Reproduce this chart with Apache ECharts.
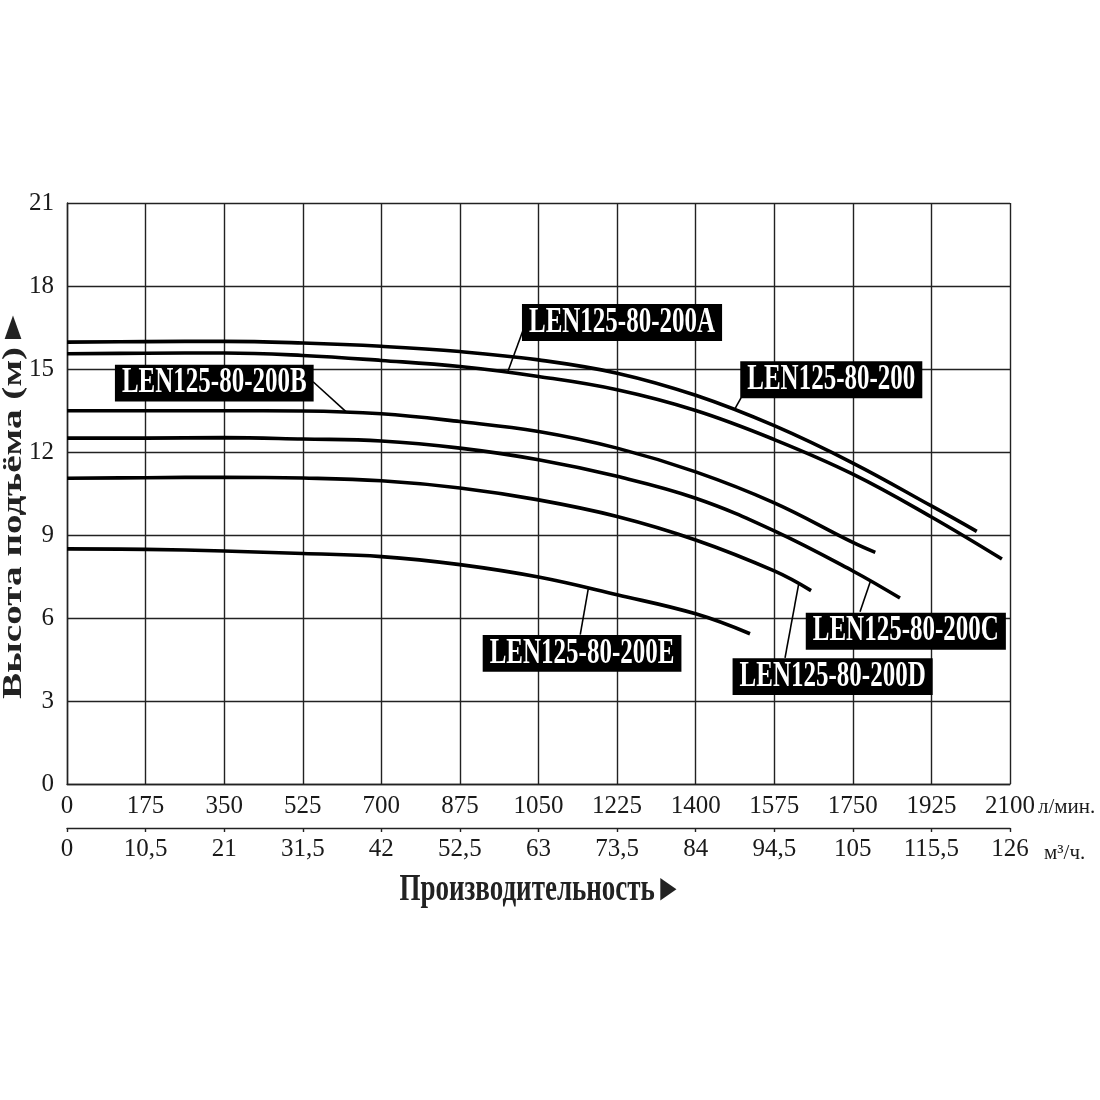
<!DOCTYPE html>
<html>
<head>
<meta charset="utf-8">
<script src="https://cdn.jsdelivr.net/npm/echarts@6/dist/echarts.min.js"></script>
<style>
  html, body { margin: 0; background: #fff; }
  #chart { width: 1100px; height: 1100px; }
</style>
</head>
<body>
<div id="chart"></div>
<script>
// axis ticks
const lpmTicks = [0, 175, 350, 525, 700, 875, 1050, 1225, 1400, 1575, 1750, 1925, 2100]
const m3hTicks = ['0', '10,5', '21', '31,5', '42', '52,5', '63', '73,5', '84', '94,5', '105', '115,5', '126']
const headTicks = [0, 3, 6, 9, 12, 15, 18, 21]

// pump curves: flow (l/min) and head (m)
const q200 = [0, 175, 350, 525, 700, 875, 1050, 1225, 1400, 1575, 1750, 1925, 2026]
const h200 = [15.97, 15.99, 16.0, 15.94, 15.82, 15.63, 15.33, 14.85, 14.05, 12.95, 11.6, 10.05, 9.13]
const q200A = [0, 175, 350, 525, 700, 875, 1050, 1225, 1400, 1575, 1750, 1925, 2082]
const h200A = [15.55, 15.57, 15.58, 15.49, 15.31, 15.09, 14.73, 14.25, 13.5, 12.45, 11.2, 9.65, 8.13]
const q200B = [0, 175, 350, 525, 700, 875, 1050, 1225, 1400, 1575, 1750, 1800]
const h200B = [13.49, 13.49, 13.49, 13.48, 13.38, 13.1, 12.74, 12.14, 11.28, 10.16, 8.73, 8.37]
const q200C = [0, 175, 350, 525, 700, 875, 1050, 1225, 1400, 1575, 1750, 1855]
const h200C = [12.5, 12.5, 12.52, 12.47, 12.4, 12.14, 11.72, 11.12, 10.33, 9.15, 7.7, 6.72]
const q200D = [0, 175, 350, 525, 700, 875, 1050, 1225, 1400, 1575, 1657]
const h200D = [11.05, 11.07, 11.09, 11.06, 10.96, 10.7, 10.27, 9.67, 8.82, 7.7, 6.99]
const q200E = [0, 175, 350, 525, 700, 875, 1050, 1225, 1400, 1521]
const h200E = [8.5, 8.48, 8.42, 8.33, 8.22, 7.93, 7.48, 6.84, 6.15, 5.43]

// model names, label box centre and leader line (from box edge to curve), in data units
const modelNames = ['LEN125-80-200', 'LEN125-80-200A', 'LEN125-80-200B', 'LEN125-80-200C', 'LEN125-80-200D', 'LEN125-80-200E']
const labelCenters = [[1702, 14.61], [1236, 16.68], [328, 14.49], [1868, 5.52], [1705, 3.88], [1147, 4.72]]
const leaderFrom = [[1501, 13.96], [1016, 16.42], [548, 14.54], [1766, 6.23], [1599, 4.56], [1143, 5.4]]
const leaderTo = [[1488, 13.58], [981, 14.87], [623, 13.43], [1789, 7.32], [1629, 7.2], [1161, 7.07]]

const curves = [
  [q200, h200],
  [q200A, h200A],
  [q200B, h200B],
  [q200C, h200C],
  [q200D, h200D],
  [q200E, h200E]
]

const FONT = '"Liberation Serif", "Times New Roman", serif'
const INK = '#1a1a1a'

const chart = echarts.init(document.getElementById('chart'))

const series = curves.map(([q, h], i) => ({
  name: modelNames[i],
  type: 'line',
  xAxisIndex: 0,
  yAxisIndex: 0,
  data: q.map((x, k) => [x, h[k]]),
  showSymbol: false,
  symbol: 'none',
  smooth: 0.4,
  lineStyle: { color: '#000', width: 3.6, cap: 'butt' },
  emphasis: { disabled: true },
  z: 3,
  markLine: {
    silent: true,
    symbol: ['none', 'none'],
    label: { show: false },
    lineStyle: { color: '#000', width: 1.6, type: 'solid' },
    emphasis: { disabled: true },
    data: [[{ coord: leaderFrom[i] }, { coord: leaderTo[i] }]]
  }
}))

chart.setOption({
  animation: false,
  backgroundColor: '#fff',
  grid: { left: 67, right: 90, top: 203, bottom: 316, containLabel: false, outerBoundsMode: 'none' },
  xAxis: [
    {
      type: 'value',
      min: lpmTicks[0],
      max: lpmTicks[lpmTicks.length - 1],
      interval: lpmTicks[1] - lpmTicks[0],
      position: 'bottom',
      name: 'л/мин.',
      nameLocation: 'end',
      nameGap: 28,
      nameMoveOverlap: false,
      nameTextStyle: { fontFamily: FONT, fontSize: 21, color: INK, align: 'left', verticalAlign: 'top', padding: [13, 0, 0, 0] },
      axisLine: { show: true, lineStyle: { color: '#222', width: 1.4 } },
      axisTick: { show: false },
      axisLabel: { fontFamily: FONT, fontSize: 25, color: INK, margin: 10, formatter: (v) => String(v) },
      splitLine: { show: true, lineStyle: { color: '#222', width: 1.4 } }
    },
    {
      type: 'value',
      min: 0,
      max: lpmTicks.length - 1,
      interval: 1,
      position: 'bottom',
      offset: 44,
      axisLine: { show: true, lineStyle: { color: '#222', width: 1.4 } },
      axisTick: { show: true, length: 4, lineStyle: { color: '#222', width: 1.4 } },
      axisLabel: {
        fontFamily: FONT, fontSize: 25, color: INK, margin: 9,
        formatter: (v) => m3hTicks[Math.round(v)]
      },
      splitLine: { show: false }
    }
  ],
  yAxis: {
    type: 'value',
    min: headTicks[0],
    max: headTicks[headTicks.length - 1],
    interval: headTicks[1] - headTicks[0],
    axisLine: { show: true, lineStyle: { color: '#222', width: 1.4 } },
    axisTick: { show: false },
    axisLabel: { fontFamily: FONT, fontSize: 25, color: INK, margin: 13 },
    splitLine: { show: true, lineStyle: { color: '#222', width: 1.4 } }
  },
  series
})

const unitPos = chart.convertToPixel({ xAxisIndex: 1, yAxisIndex: 0 }, [lpmTicks.length - 1, 0])
const midY = chart.convertToPixel({ yAxisIndex: 0 }, (headTicks[0] + headTicks[headTicks.length - 1]) / 2)
const midX = chart.convertToPixel({ xAxisIndex: 0 }, (lpmTicks[0] + lpmTicks[lpmTicks.length - 1]) / 2)

// the source picture has its lettering drawn tall and narrow, so the texts are stretched
chart.setOption({
  graphic: modelNames.map((name, i) => {
    const p = chart.convertToPixel({ xAxisIndex: 0, yAxisIndex: 0 }, labelCenters[i])
    return {
      type: 'text',
      x: p[0],
      y: p[1],
      scaleY: 1.42,
      z: 10,
      silent: true,
      style: {
        text: name,
        fill: '#fff',
        backgroundColor: '#000',
        padding: [2, 7, 2, 7],
        lineHeight: 22,
        font: 'bold 25px ' + FONT,
        align: 'center',
        verticalAlign: 'middle'
      }
    }
  }).concat([
    {
      type: 'text',
      x: unitPos[0] + 34,
      y: unitPos[1] + 44 + 25,
      silent: true,
      style: { text: 'м³/ч.', font: '21px ' + FONT, fill: INK, align: 'left', verticalAlign: 'middle' }
    },
    {
      type: 'text',
      x: 14,
      y: midY + 10,
      rotation: Math.PI / 2,
      scaleX: 1.4,
      silent: true,
      style: { text: 'Высота подъёма (м)►', font: 'bold 28px ' + FONT, fill: '#222', align: 'center', verticalAlign: 'middle' }
    },
    {
      type: 'text',
      x: midX + 2,
      y: unitPos[1] + 44 + 62,
      scaleY: 1.4,
      silent: true,
      style: { text: 'Производительность►', font: 'bold 27px ' + FONT, fill: '#222', align: 'center', verticalAlign: 'middle' }
    }
  ])
})
</script>
</body>
</html>
